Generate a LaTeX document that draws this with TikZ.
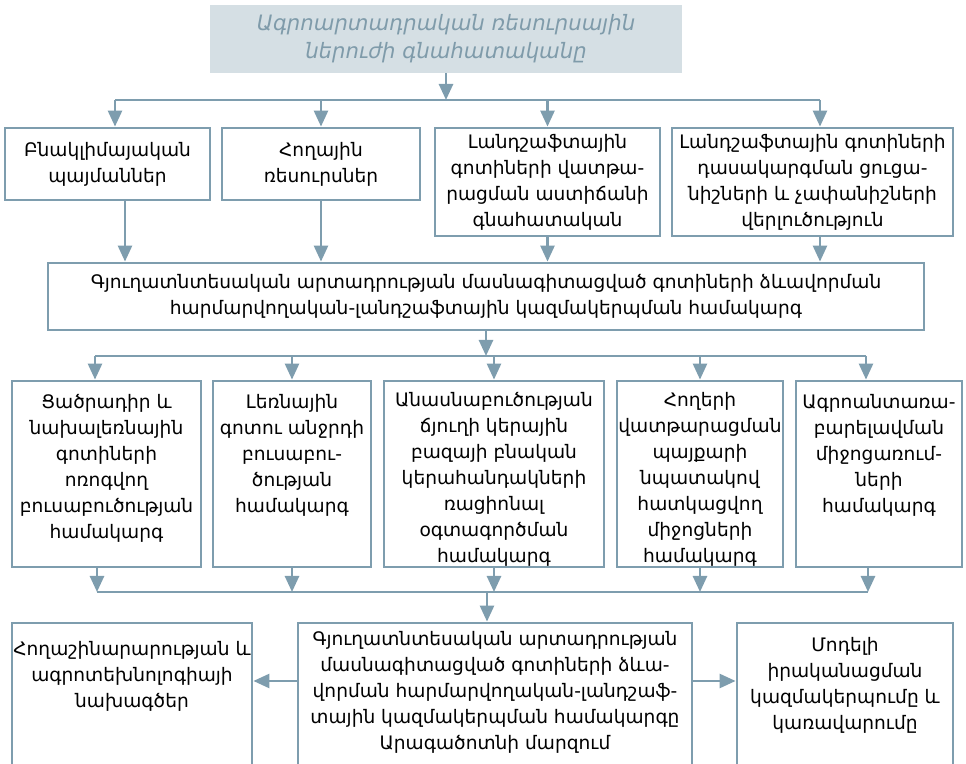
\documentclass[tikz,border=0pt]{standalone}
\usepackage{fontspec}
\setmainfont{DejaVu Sans}
\usetikzlibrary{arrows.meta,positioning}
\definecolor{linecol}{HTML}{7E9DAE}
\definecolor{titlefill}{HTML}{D5DFE4}
\definecolor{titletext}{HTML}{7F9BAA}
\tikzset{
  frame/.style={draw=linecol, line width=1.4pt, fill=white, inner sep=0pt},
  txt/.style={align=center, inner sep=0pt, font=\fontsize{9.3pt}{13pt}\selectfont},
  bus/.style={draw=linecol, line width=1.3pt},
  arr/.style={draw=linecol, line width=1.3pt, -{Triangle[width=7pt,length=8pt]}},
}
\begin{document}
\begin{tikzpicture}[x=0.5pt,y=-0.5pt]
\clip (0,0) rectangle (966,764);
\node[fill=titlefill, minimum width=236pt, minimum height=34pt, inner sep=0pt, align=center, text=titletext, font=\fontsize{10.6pt}{14pt}\selectfont\itshape] (title) at (446,39) {Ագրոարտադրական ռեսուրսային\\ներուժի գնահատականը};

\node[frame, txt, minimum width=102.5pt, minimum height=36pt] (clim) at (107.5,164) {Բնակլիմայական\\պայմաններ};
\node[frame, txt, minimum width=99pt, minimum height=36pt] (soil) at (321,164) {Հողային\\ռեսուրսներ};
\node[frame, txt, minimum width=112.5pt, minimum height=54pt] (degr) at (547.5,182) {Լանդշաֆտային\\գոտիների վատթա-\\րացման աստիճանի\\գնահատական};
\node[frame, txt, minimum width=140.5pt, minimum height=54pt] (class) at (812.5,182) {Լանդշաֆտային գոտիների\\դասակարգման ցուցա-\\նիշների և չափանիշների\\վերլուծություն};

\node[frame, txt, minimum width=438pt, minimum height=33.5pt] (system) at (486,296.5) {Գյուղատնտեսական արտադրության մասնագիտացված գոտիների ձևավորման\\հարմարվողական-լանդշաֆտային կազմակերպման համակարգ};

\node[frame, minimum width=94.5pt, minimum height=93pt] (irr) at (106.5,474) {};
\node[frame, minimum width=79pt, minimum height=93pt] (mount) at (292,474) {};
\node[frame, minimum width=110pt, minimum height=93pt] (fodder) at (494,474) {};
\node[frame, minimum width=83pt, minimum height=93pt] (degfund) at (700,474) {};
\node[frame, minimum width=83pt, minimum height=93pt] (agrofor) at (879,474) {};
\node[txt, anchor=north] (irrtxt) at ([yshift=-7pt]irr.north) {Ցածրադիր և\\նախալեռնային\\գոտիների\\ոռոգվող\\բուսաբուծության\\համակարգ};
\node[txt, anchor=north] (mounttxt) at ([yshift=-7pt]mount.north) {Լեռնային\\գոտու անջրդի\\բուսաբու-\\ծության\\համակարգ};
\node[txt, anchor=north] (foddertxt) at ([yshift=-6pt]fodder.north) {Անասնաբուծության\\ճյուղի կերային\\բազայի բնական\\կերահանդակների\\ռացիոնալ\\օգտագործման\\համակարգ};
\node[txt, anchor=north] (degfundtxt) at ([yshift=-6pt]degfund.north) {Հողերի\\վատթարացման\\պայքարի\\նպատակով\\հատկացվող\\միջոցների\\համակարգ};
\node[txt, anchor=north] (agrofortxt) at ([yshift=-7pt]agrofor.north) {Ագրոանտառա-\\բարելավման\\միջոցառում-\\ների\\համակարգ};

\node[frame, minimum width=120pt, minimum height=85pt] (proj) at (132,708) {};
\node[frame, minimum width=197pt, minimum height=85pt] (aragats) at (495,708) {};
\node[frame, minimum width=108pt, minimum height=85pt] (mgmt) at (845,708) {};
\node[txt, anchor=north] (projtxt) at ([yshift=-9.5pt]proj.north) {Հողաշինարարության և\\ագրոտեխնոլոգիայի\\նախագծեր};
\node[txt, anchor=north] (aragatstxt) at ([yshift=-4.5pt]aragats.north) {Գյուղատնտեսական արտադրության\\մասնագիտացված գոտիների ձևա-\\վորման հարմարվողական-լանդշաֆ-\\տային կազմակերպման համակարգը\\Արագածոտնի մարզում};
\node[txt, anchor=north] (mgmttxt) at ([yshift=-7.5pt]mgmt.north) {Մոդելի\\իրականացման\\կազմակերպումը և\\կառավարումը};

\coordinate (bus1) at (446,100);
\coordinate (b1l) at (115,100);
\coordinate (b1r) at (820,100);
\draw[arr] (title.south) -- (bus1);
\draw[bus] (b1l) -- (b1r);
\draw[arr] (b1l) -- (b1l |- clim.north);
\draw[arr] (bus1 -| soil) -- (soil.north);
\draw[arr] (bus1 -| degr) -- (degr.north);
\draw[arr] (b1r) -- (b1r |- class.north);

\draw[arr] ([xshift=8.75pt]clim.south) -- ([xshift=8.75pt]clim.south |- system.north);
\draw[arr] (soil.south) -- (soil.south |- system.north);
\draw[arr] (degr.south) -- (degr.south |- system.north);
\draw[arr] (b1r |- class.south) -- (b1r |- system.north);

\coordinate (bus2) at (484,356);
\coordinate (b2l) at (95,356);
\coordinate (b2r) at (866,356);
\draw[arr] (system.south) -- (system.south |- bus2);
\draw[bus] (b2l) -- (b2r);
\draw[arr] (b2l) -- (b2l |- irr.north);
\draw[arr] (bus2 -| mount) -- (mount.north);
\draw[arr] (bus2 -| fodder) -- (fodder.north);
\draw[arr] (bus2 -| degfund) -- (degfund.north);
\draw[arr] (b2r) -- (b2r |- agrofor.north);

\coordinate (bus3) at (487,592);
\coordinate (b3l) at (97,592);
\coordinate (b3r) at (868,592);
\draw[arr] (b3l |- irr.south) -- (b3l);
\draw[arr] (mount.south) -- (mount.south |- bus3);
\draw[arr] (fodder.south) -- (fodder.south |- bus3);
\draw[arr] (degfund.south) -- (degfund.south |- bus3);
\draw[arr] (b3r |- agrofor.south) -- (b3r);
\draw[bus] (b3l) -- (b3r);
\draw[arr] (bus3) -- (bus3 |- aragats.north);

\draw[arr] ([yshift=13.5pt]aragats.west) -- ([yshift=13.5pt]aragats.west -| proj.east);
\draw[arr] ([yshift=13.5pt]aragats.east) -- ([yshift=13.5pt]aragats.east -| mgmt.west);
\end{tikzpicture}
\end{document}
